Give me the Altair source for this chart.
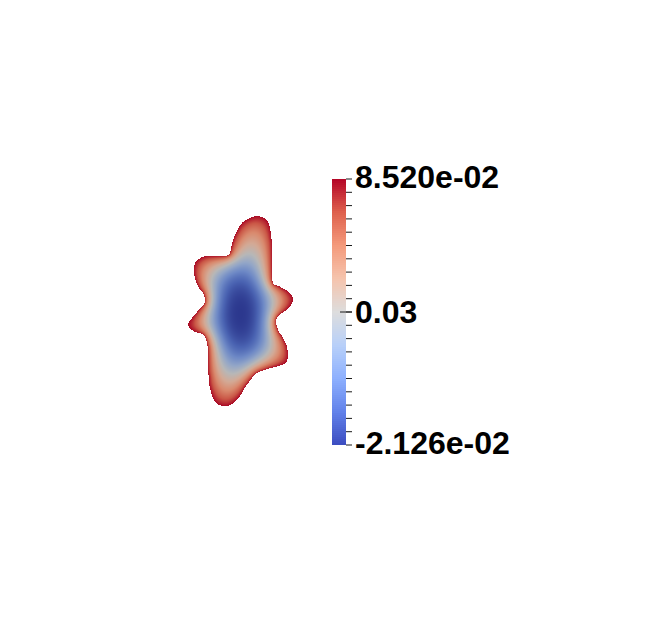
import numpy as np
import pandas as pd
import altair as alt

# ---- data ----
VMIN = -2.126e-02
VMAX = 8.520e-02
LABEL_TEXT = ["8.520e-02", "0.03", "-2.126e-02"]

# outline of the domain (model units, field minimum at 0,0, y up)
outline_x = [0.167, 0.267, 0.300, 0.317, 0.317, 0.317, 0.333, 0.400, 0.483, 0.527,
             0.500, 0.367, 0.383, 0.433, 0.473, 0.473, 0.417, 0.300, 0.167, 0.067,
             -0.017, -0.100, -0.183, -0.250, -0.300, -0.317, -0.317, -0.350, -0.467, -0.517,
             -0.483, -0.383, -0.350, -0.367, -0.417, -0.457, -0.450, -0.367, -0.245, -0.117,
             -0.083, -0.050, 0.017, 0.083]
outline_y = [0.990, 0.950, 0.867, 0.733, 0.600, 0.433, 0.317, 0.283, 0.233, 0.167,
             0.083, -0.033, -0.150, -0.233, -0.333, -0.450, -0.500, -0.533, -0.583, -0.700,
             -0.833, -0.900, -0.907, -0.867, -0.733, -0.567, -0.400, -0.217, -0.160, -0.100,
             -0.033, 0.083, 0.133, 0.217, 0.283, 0.400, 0.517, 0.583, 0.590, 0.600,
             0.700, 0.800, 0.917, 0.960]

# ParaView "Cool to Warm" colour map samples
COOLWARM = ["#3b4cc0", "#6282ea", "#8db0fe", "#b8d0f9", "#dddddd",
            "#f5c4ad", "#f49a7b", "#de604d", "#b40426"]
# lit surface: the cool end looks darker on the shape than on the bar
SHADE = [0.74, 0.76, 0.78, 0.80, 0.83, 0.86, 0.89, 0.91, 0.93]


def shade(hexcol, f):
    r, g, b = (int(hexcol[i:i + 2], 16) for i in (1, 3, 5))
    return "#%02x%02x%02x" % (round(r * f), round(g * f), round(b * f))


R = VMAX - VMIN
cdomain = [VMIN + i / (len(COOLWARM) - 1) * R for i in range(len(COOLWARM))]
cscale = alt.Scale(domain=cdomain, range=COOLWARM, interpolate="rgb", clamp=True)
cscale_lit = alt.Scale(domain=cdomain,
                       range=[shade(c, f) for c, f in zip(COOLWARM, SHADE)],
                       interpolate="rgb", clamp=True)

# ---- smooth outline (Catmull-Rom) in polar form ----
P = np.column_stack([outline_x, outline_y])
n = len(P)
dense = []
for i in range(n):
    p0, p1, p2, p3 = P[(i - 1) % n], P[i], P[(i + 1) % n], P[(i + 2) % n]
    for t in np.linspace(0, 1, 10, endpoint=False):
        pt = 0.5 * (2 * p1 + (-p0 + p2) * t + (2 * p0 - 5 * p1 + 4 * p2 - p3) * t ** 2
                    + (-p0 + 3 * p1 - 3 * p2 + p3) * t ** 3)
        dense.append(pt)
dense = np.array(dense)
ang = np.arctan2(dense[:, 1], dense[:, 0])
rad = np.hypot(dense[:, 0], dense[:, 1])
order = np.argsort(ang)
ang_s, rad_s = ang[order], rad[order]

# ---- field on a cell grid: smooth bowl, minimum inside, maximum on the rim ----
h = 0.01
kx = np.arange(-62, 62)
ky = np.arange(-96, 102)
XC, YC = np.meshgrid((kx + 0.5) * h, (ky + 0.5) * h)
rb_cell = np.interp(np.arctan2(YC, XC), ang_s, rad_s, period=2 * np.pi)
mask = (np.hypot(XC, YC) < rb_cell).astype(float)


def apply_A(u):
    v = 4 * u
    v[1:, :] -= u[:-1, :]
    v[:-1, :] -= u[1:, :]
    v[:, 1:] -= u[:, :-1]
    v[:, :-1] -= u[:, 1:]
    return v * mask


u = np.zeros_like(mask)
res = mask.copy()
p = res.copy()
rs = float((res * res).sum())
for _ in range(3000):
    Ap = apply_A(p)
    alpha = rs / float((p * Ap).sum())
    u += alpha * p
    res -= alpha * Ap
    rs_new = float((res * res).sum())
    if rs_new < 1e-12:
        break
    p = res + (rs_new / rs) * p
    rs = rs_new

frac = (1 - u / u.max()) ** 1.2
val = VMIN + frac * R
sel = mask > 0
cells = pd.DataFrame({
    "x": np.round(kx[None, :].repeat(len(ky), 0)[sel] * h, 3),
    "y": np.round(ky[:, None].repeat(len(kx), 1)[sel] * h, 3),
    "v": np.round(val[sel], 6),
})
cells["x2"] = np.round(cells["x"] + h, 3)
cells["y2"] = np.round(cells["y"] + h, 3)

W, H = 560, 520
OX, OY = 232, 307  # where the model origin sits in the view
xs_blob = alt.Scale(domain=[-OX * h, (W - OX) * h], nice=False, zero=False)
ys_blob = alt.Scale(domain=[(OY - H) * h, OY * h], nice=False, zero=False)

# colour bar: value axis mapped so that the bar sits at its place
BAR_TOP, BAR_BOT = 171, 437
d0 = VMIN - (H - BAR_BOT) / (BAR_BOT - BAR_TOP) * R
d1 = VMAX + BAR_TOP / (BAR_BOT - BAR_TOP) * R
yscale = alt.Scale(domain=[d0, d1], nice=False, zero=False)

NB = 133
edges = np.linspace(VMIN, VMAX, NB + 1)
bar_df = pd.DataFrame({
    "lo": edges[:-1],
    "hi": np.minimum(edges[1:] + R / NB * 0.6, VMAX),
    "mid": (edges[:-1] + edges[1:]) / 2,
})
tick_df = pd.DataFrame({"v": np.linspace(VMIN, VMAX, 21)})
mid_df = pd.DataFrame({"v": [(VMIN + VMAX) / 2]})
end_lab = pd.DataFrame({"v": [VMAX, VMIN], "t": [LABEL_TEXT[0], LABEL_TEXT[2]]})
mid_lab = pd.DataFrame({"v": [(VMIN + VMAX) / 2], "t": [LABEL_TEXT[1]]})

blob = alt.Chart(cells).mark_rect(strokeWidth=0).encode(
    x=alt.X("x:Q", scale=xs_blob, axis=None), x2="x2:Q",
    y=alt.Y("y:Q", scale=ys_blob, axis=None), y2="y2:Q",
    color=alt.Color("v:Q", scale=cscale_lit, legend=None),
)

bar = alt.Chart(bar_df).mark_rect(strokeWidth=0).encode(
    y=alt.Y("lo:Q", scale=yscale, axis=None),
    y2="hi:Q",
    x=alt.value(324), x2=alt.value(338),
    color=alt.Color("mid:Q", scale=cscale, legend=None),
)
ticks = alt.Chart(tick_df).mark_rule(color="#1a1a1a", strokeWidth=1).encode(
    y=alt.Y("v:Q", scale=yscale, axis=None), x=alt.value(338), x2=alt.value(344)
)
midtick = alt.Chart(mid_df).mark_rule(color="#1a1a1a", strokeWidth=1).encode(
    y=alt.Y("v:Q", scale=yscale, axis=None), x=alt.value(332), x2=alt.value(344)
)
txt_kw = dict(align="left", baseline="alphabetic", font="Liberation Sans",
              fontWeight="bold", fontSize=32, color="black")
lab_end = alt.Chart(end_lab).mark_text(dy=8.5, **txt_kw).encode(
    y=alt.Y("v:Q", scale=yscale, axis=None), x=alt.value(347), text="t:N"
)
lab_mid = alt.Chart(mid_lab).mark_text(dy=11, **txt_kw).encode(
    y=alt.Y("v:Q", scale=yscale, axis=None), x=alt.value(347), text="t:N"
)

colorbar = alt.layer(bar, ticks, midtick, lab_end, lab_mid)

chart = alt.layer(blob, colorbar).resolve_scale(
    color="independent", y="independent"
).properties(
    width=W, height=H, padding=0, autosize=alt.AutoSizeParams(type="none"),
    background="white",
).configure_view(stroke=None)

chart.save("out.html", embed_options={"renderer": "svg", "actions": False})
